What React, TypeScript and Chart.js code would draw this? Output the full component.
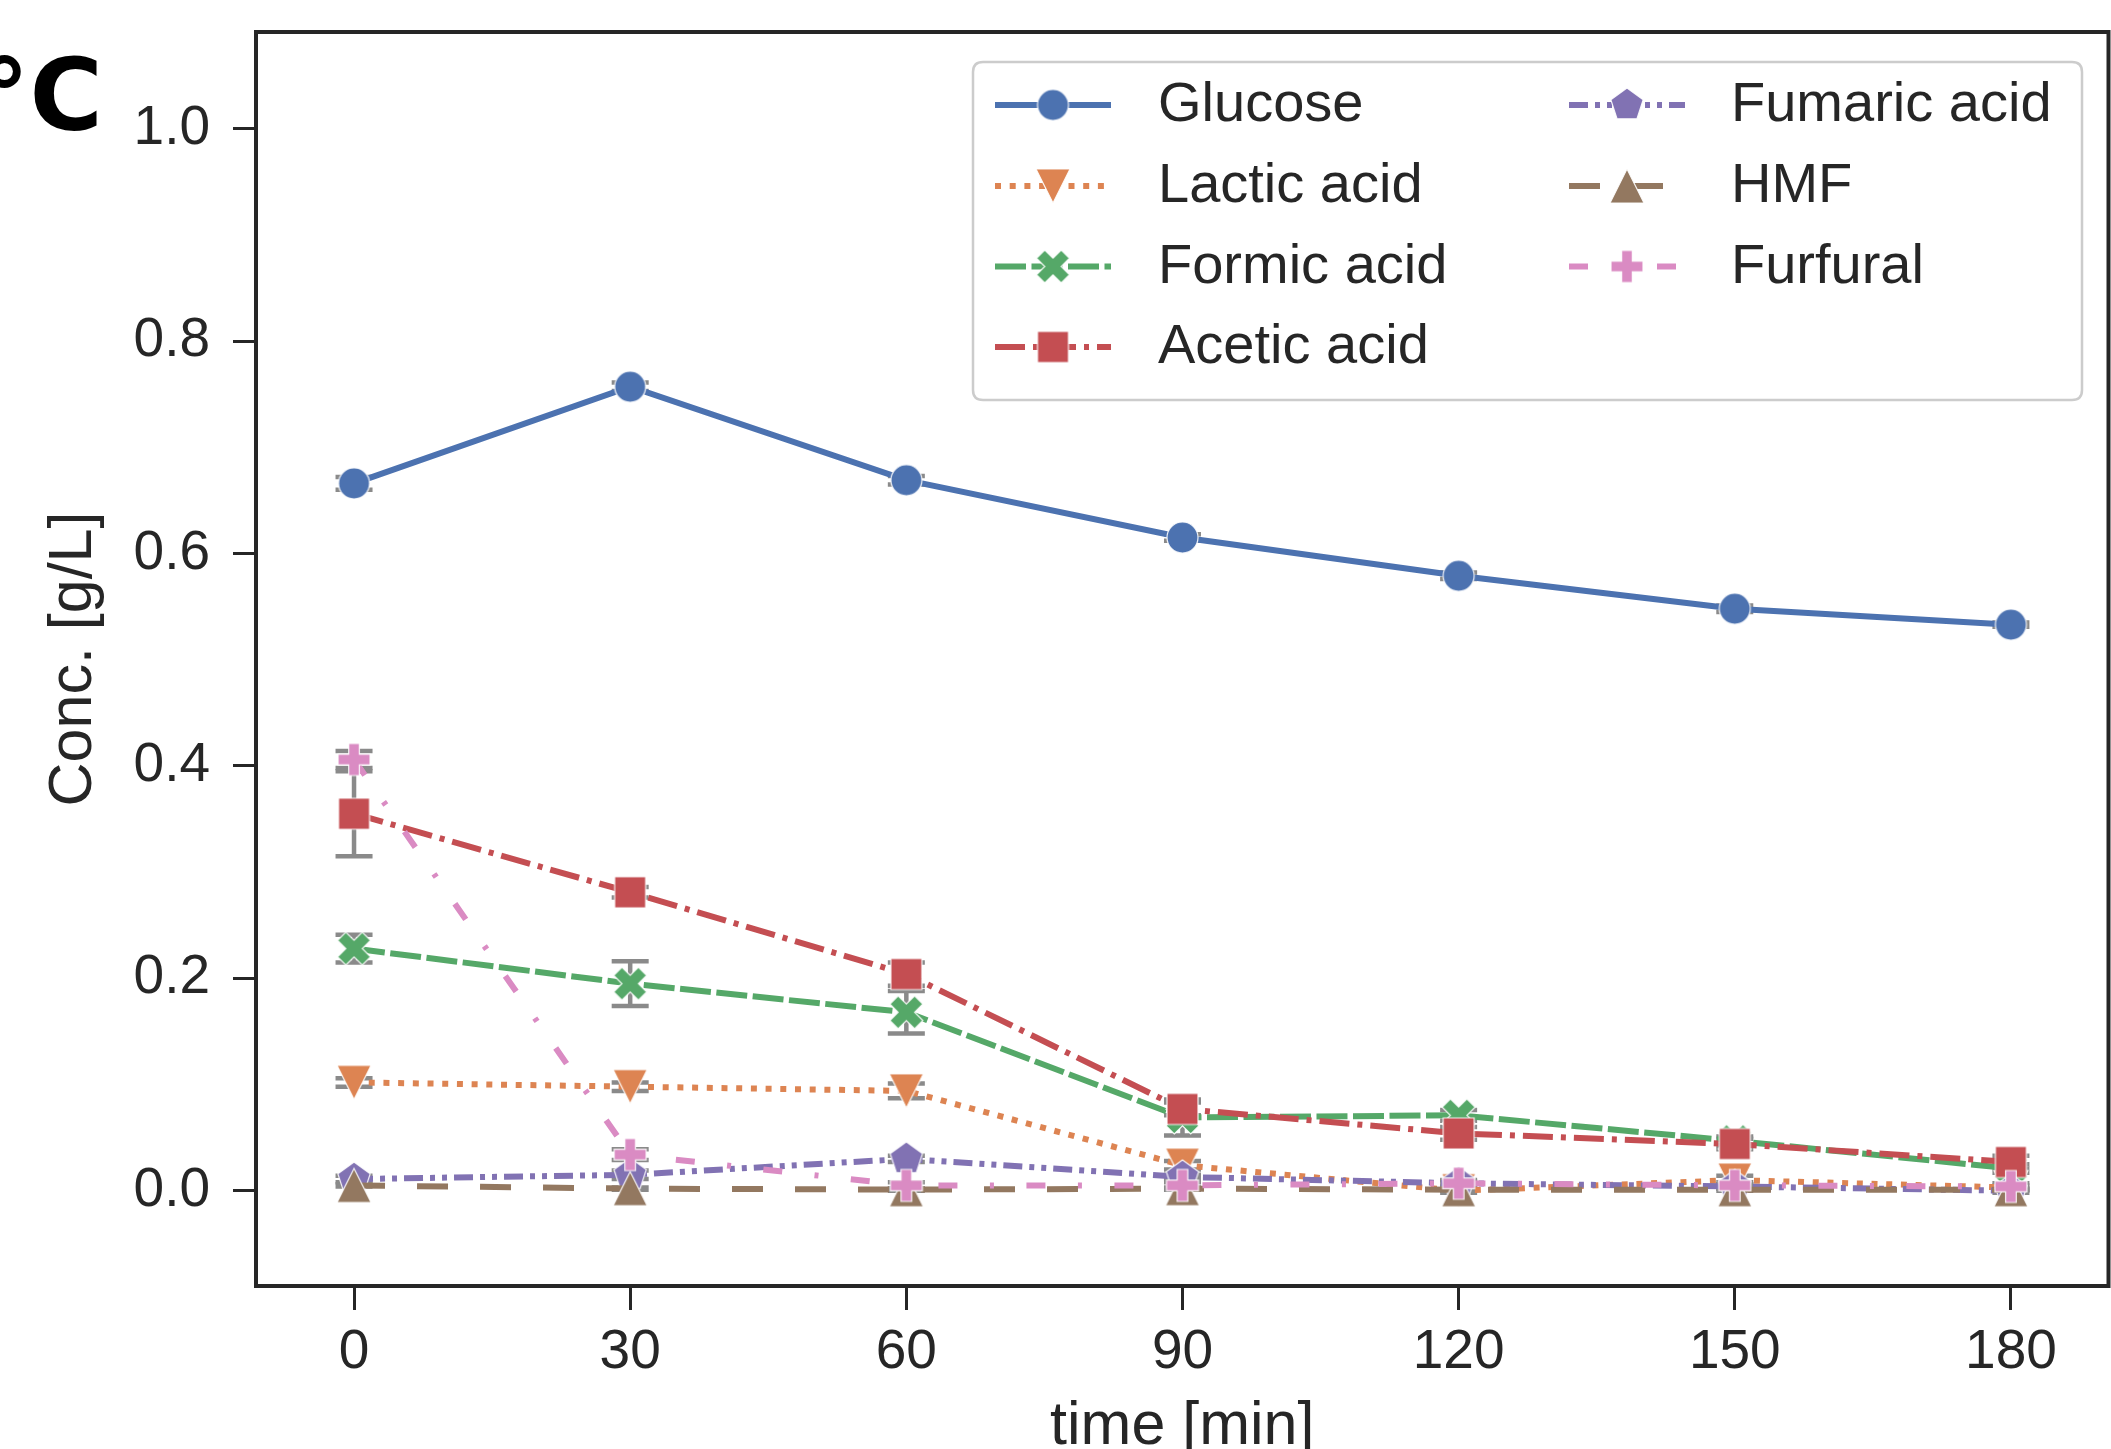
import React, { useEffect, useRef } from 'react';
import { Chart, registerables } from 'chart.js';

Chart.register(...registerables);

// ---------- data ----------
const times = [0, 30, 60, 90, 120, 150, 180];
const xTickValues = [0, 30, 60, 90, 120, 150, 180];
const yTickValues = [0, 0.2, 0.4, 0.6, 0.8, 1.0];

const seriesNames = ['Glucose', 'Lactic acid', 'Formic acid', 'Acetic acid', 'Fumaric acid', 'HMF', 'Furfural'];

const glucose = [0.666, 0.757, 0.669, 0.615, 0.579, 0.548, 0.533];
const lactic = [0.102, 0.098, 0.094, 0.024, 0.0, 0.010, 0.003];
const formic = [0.228, 0.195, 0.168, 0.069, 0.071, 0.047, 0.021];
const acetic = [0.355, 0.281, 0.204, 0.077, 0.054, 0.044, 0.027];
const fumaric = [0.011, 0.015, 0.030, 0.013, 0.007, 0.004, 0.000];
const hmf = [0.005, 0.002, 0.001, 0.002, 0.001, 0.001, 0.001];
const furfural = [0.406, 0.034, 0.005, 0.005, 0.007, 0.005, 0.004];

const glucoseErr = [0.006, 0.004, 0.004, 0.003, 0.003, 0.003, 0.002];
const lacticErr = [0.004, 0.004, 0.007, 0.004, 0.002, 0.004, 0.002];
const formicErr = [0.013, 0.021, 0.020, 0.017, 0.005, 0.004, 0.004];
const aceticErr = [0.040, 0.005, 0.011, 0.006, 0.006, 0.005, 0.006];
const fumaricErr = [0.003, 0.004, 0.003, 0.002, 0.002, 0.002, 0.002];
const hmfErr = [0.001, 0.001, 0.001, 0.001, 0.001, 0.001, 0.001];
const furfuralErr = [0.008, 0.005, 0.003, 0.003, 0.003, 0.003, 0.003];

const seriesValues = [glucose, lactic, formic, acetic, fumaric, hmf, furfural];
const seriesErrors = [glucoseErr, lacticErr, formicErr, aceticErr, fumaricErr, hmfErr, furfuralErr];

// ---------- styles ----------
const colors = ['#4C72B0', '#DD8452', '#55A868', '#C44E52', '#8172B3', '#937860', '#DA8BC3'];
const dashes: number[][] = [
  [],
  [6, 8.7],
  [31, 5.5],
  [30, 8, 5, 8],
  [19, 7, 5, 7, 5, 7],
  [31, 32],
  [19, 32.5, 4, 32.5],
];
const markerShapes = ['circle', 'tridown', 'xfill', 'square', 'pentagon', 'triup', 'plusfill'];
const markerSizes = [31, 34, 33, 31, 34, 34, 32];

const W = 2111;
const H = 1480;
const AREA_LEFT = 256;
const AREA_TOP = 32;
const AREA_RIGHT = 2108.5;
const AREA_BOTTOM = 1286;
const LINE_W = 6;
const TEXT = '#262626';
const FONT = '"Liberation Sans", Arial, sans-serif';

function makeMarker(shape: string, size: number, color: string): HTMLCanvasElement {
  const pad = 4;
  const dim = Math.ceil(size + 2 * pad);
  const c = document.createElement('canvas');
  c.width = dim;
  c.height = dim;
  const ctx = c.getContext('2d')!;
  ctx.translate(dim / 2, dim / 2);
  const r = size / 2;
  ctx.beginPath();
  const poly = (pts: number[][], scale: number) => {
    pts.forEach((p, i) => {
      const px = p[0] * scale;
      const py = -p[1] * scale;
      if (i === 0) ctx.moveTo(px, py);
      else ctx.lineTo(px, py);
    });
    ctx.closePath();
  };
  switch (shape) {
    case 'circle':
      ctx.arc(0, 0, r, 0, Math.PI * 2);
      break;
    case 'square':
      ctx.rect(-r, -r, 2 * r, 2 * r);
      break;
    case 'tridown':
      poly([[0, -1], [-1, 1], [1, 1]], r);
      break;
    case 'triup':
      poly([[0, 1], [-1, -1], [1, -1]], r);
      break;
    case 'pentagon': {
      const pts: number[][] = [];
      for (let k = 0; k < 5; k++) {
        const a = Math.PI / 2 + (k * 2 * Math.PI) / 5;
        pts.push([Math.cos(a), Math.sin(a)]);
      }
      poly(pts, r);
      break;
    }
    case 'plusfill':
      poly(
        [[-1, -3], [-1, -1], [-3, -1], [-3, 1], [-1, 1], [-1, 3], [1, 3], [1, 1], [3, 1], [3, -1], [1, -1], [1, -3]],
        size / 6
      );
      break;
    case 'xfill':
      poly(
        [[-1, -2], [0, -1], [1, -2], [2, -1], [1, 0], [2, 1], [1, 2], [0, 1], [-1, 2], [-2, 1], [-1, 0], [-2, -1]],
        size / 4
      );
      break;
  }
  ctx.fillStyle = color;
  ctx.fill();
  ctx.lineWidth = 1.2;
  ctx.strokeStyle = 'rgba(255,255,255,0.9)';
  ctx.lineJoin = 'miter';
  ctx.stroke();
  return c;
}

export default function App() {
  const canvasRef = useRef<HTMLCanvasElement | null>(null);

  useEffect(() => {
    const canvas = canvasRef.current;
    if (!canvas) return;

    const markers = markerShapes.map((s, i) => makeMarker(s, markerSizes[i], colors[i]));

    const datasets = seriesNames.map((name, i) => ({
      label: name,
      data: times.map((t, j) => ({ x: t, y: seriesValues[i][j] })),
      borderColor: colors[i],
      backgroundColor: colors[i],
      borderWidth: LINE_W,
      borderDash: dashes[i],
      borderCapStyle: 'butt' as const,
      pointStyle: markers[i] as any,
      pointRadius: 16,
      pointHoverRadius: 16,
      tension: 0,
      fill: false,
      order: seriesNames.length - i,
    }));

    const errorBarPlugin = {
      id: 'errorBars',
      beforeDatasetsDraw(chart: any) {
        const { ctx, scales } = chart;
        const xs = scales.x;
        const ys = scales.y;
        ctx.save();
        ctx.strokeStyle = '#8a8a8a';
        ctx.lineWidth = 4.5;
        ctx.lineCap = 'butt';
        seriesValues.forEach((vals, i) => {
          vals.forEach((v, j) => {
            const e = seriesErrors[i][j];
            const px = xs.getPixelForValue(times[j]);
            const top = ys.getPixelForValue(v + e);
            const bot = ys.getPixelForValue(v - e);
            ctx.beginPath();
            ctx.moveTo(px, top);
            ctx.lineTo(px, bot);
            ctx.moveTo(px - 18.5, top);
            ctx.lineTo(px + 18.5, top);
            ctx.moveTo(px - 18.5, bot);
            ctx.lineTo(px + 18.5, bot);
            ctx.stroke();
          });
        });
        ctx.restore();
      },
    };

    const decorPlugin = {
      id: 'decor',
      afterDraw(chart: any) {
        const { ctx, chartArea } = chart;
        ctx.save();
        // frame
        ctx.strokeStyle = TEXT;
        ctx.lineWidth = 4;
        ctx.setLineDash([]);
        ctx.strokeRect(chartArea.left, chartArea.top, chartArea.right - chartArea.left, chartArea.bottom - chartArea.top);

        // cropped panel label
        ctx.fillStyle = '#000';
        ctx.font = 'bold 100px "DejaVu Sans", sans-serif';
        ctx.textAlign = 'left';
        ctx.textBaseline = 'alphabetic';
        ctx.fillText('°C', -20.5, 130);

        // legend
        const bx = 973, by = 62, bw = 2082 - 973, bh = 400 - 62, rad = 10;
        ctx.beginPath();
        ctx.moveTo(bx + rad, by);
        ctx.lineTo(bx + bw - rad, by);
        ctx.quadraticCurveTo(bx + bw, by, bx + bw, by + rad);
        ctx.lineTo(bx + bw, by + bh - rad);
        ctx.quadraticCurveTo(bx + bw, by + bh, bx + bw - rad, by + bh);
        ctx.lineTo(bx + rad, by + bh);
        ctx.quadraticCurveTo(bx, by + bh, bx, by + bh - rad);
        ctx.lineTo(bx, by + rad);
        ctx.quadraticCurveTo(bx, by, bx + rad, by);
        ctx.closePath();
        ctx.fillStyle = 'rgba(255,255,255,0.8)';
        ctx.fill();
        ctx.strokeStyle = '#cccccc';
        ctx.lineWidth = 2.5;
        ctx.stroke();

        const cols = [
          { x0: 995, x1: 1111, mx: 1053, tx: 1158 },
          { x0: 1569, x1: 1685, mx: 1627, tx: 1731 },
        ];
        const rowsY = [105, 186, 266.5, 347];
        ctx.font = `56px ${FONT}`;
        ctx.textBaseline = 'middle';
        seriesNames.forEach((name, i) => {
          const col = cols[i < 4 ? 0 : 1];
          const yy = rowsY[i < 4 ? i : i - 4];
          ctx.beginPath();
          ctx.setLineDash(dashes[i]);
          ctx.lineDashOffset = 0;
          ctx.lineCap = 'butt';
          ctx.lineWidth = LINE_W;
          ctx.strokeStyle = colors[i];
          ctx.moveTo(col.x0, yy);
          ctx.lineTo(col.x1, yy);
          ctx.stroke();
          ctx.setLineDash([]);
          const m = markers[i];
          ctx.drawImage(m, col.mx - m.width / 2, yy - m.height / 2);
          ctx.fillStyle = TEXT;
          ctx.fillText(name, col.tx, yy + 1);
        });
        ctx.restore();
      },
    };

    const chart = new Chart(canvas, {
      type: 'line',
      data: { datasets },
      options: {
        responsive: false,
        animation: false,
        devicePixelRatio: 1,
        events: [],
        layout: {
          autoPadding: false,
          padding: { left: 0, right: W - AREA_RIGHT, top: AREA_TOP, bottom: 0 },
        },
        plugins: {
          legend: { display: false },
          tooltip: { enabled: false },
        },
        scales: {
          x: {
            type: 'linear',
            min: -10.65,
            max: 190.6,
            afterFit: (s: any) => {
              s.height = H - AREA_BOTTOM;
              s.paddingLeft = 0;
              s.paddingRight = 0;
              s.paddingTop = 0;
              s.paddingBottom = 0;
            },
            afterBuildTicks: (s: any) => {
              s.ticks = xTickValues.map((v) => ({ value: v }));
            },
            ticks: {
              font: { family: FONT, size: 55 },
              color: TEXT,
              padding: 9.5,
              autoSkip: false,
              maxRotation: 0,
              callback: (v: any) => String(v),
            },
            grid: {
              display: true,
              drawOnChartArea: false,
              drawTicks: true,
              tickLength: 24,
              tickWidth: 3,
              tickColor: TEXT,
              color: TEXT,
            },
            border: { display: false },
            title: {
              display: true,
              text: 'time [min]',
              font: { family: FONT, size: 61 },
              color: TEXT,
              padding: { top: 0, bottom: 16.4 },
            },
          },
          y: {
            type: 'linear',
            min: -0.0897,
            max: 1.091,
            afterFit: (s: any) => {
              s.width = AREA_LEFT;
              s.paddingTop = 0;
              s.paddingBottom = 0;
              s.paddingLeft = 0;
              s.paddingRight = 0;
            },
            afterBuildTicks: (s: any) => {
              s.ticks = yTickValues.map((v) => ({ value: v }));
            },
            ticks: {
              font: { family: FONT, size: 55 },
              color: TEXT,
              padding: 23,
              autoSkip: false,
              callback: (v: any) => Number(v).toFixed(1),
            },
            grid: {
              display: true,
              drawOnChartArea: false,
              drawTicks: true,
              tickLength: 23,
              tickWidth: 3,
              tickColor: TEXT,
              color: TEXT,
            },
            border: { display: false },
            title: {
              display: true,
              text: 'Conc. [g/L]',
              font: { family: FONT, size: 61 },
              color: TEXT,
              padding: { top: 37.4, bottom: 0 },
            },
          },
        },
      },
      plugins: [errorBarPlugin, decorPlugin],
    } as any);

    return () => {
      chart.destroy();
    };
  }, []);

  return (
    <div
      style={{
        position: 'fixed',
        left: 0,
        top: 0,
        width: W,
        height: 1449,
        overflow: 'hidden',
        background: '#ffffff',
      }}
    >
      <canvas ref={canvasRef} width={W} height={H} style={{ display: 'block' }} />
    </div>
  );
}
